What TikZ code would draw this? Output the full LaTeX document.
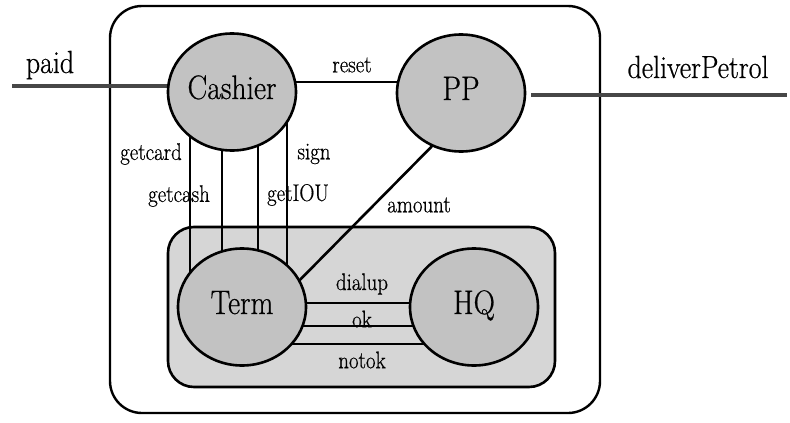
\documentclass[tikz,border=0pt]{standalone}
\usepackage{fontspec}
\newfontfamily\timesface{Latin Modern Roman}[FakeStretch=0.87,FakeBold=0.6]
\usetikzlibrary{calc,shapes.geometric}
\pgfdeclarelayer{boxes}
\pgfdeclarelayer{wires}
\pgfsetlayers{boxes,wires,main}

\begin{document}
\begin{tikzpicture}[x=1pt,y=-1pt,
  proc/.style={ellipse, draw, line width=2.6pt, fill=black!24,
    minimum width=128pt, minimum height=117pt, inner sep=0pt,
    text height=24pt, text depth=10pt,
    font=\timesface\fontsize{34}{34}\selectfont},
  wire/.style={line width=2.6pt},
  ext/.style={line width=4.5pt, draw=black!72},
  lbl/.style={font=\timesface\fontsize{24}{24}\selectfont, inner sep=0pt},
  bigl/.style={font=\timesface\fontsize{32}{32}\selectfont, inner sep=0pt}]
\useasboundingbox (0,0) rectangle (790,423);

% processes
\node[proc] (Cashier) at (232,92) {Cashier};
\node[proc] (PP) at (461,93) {PP};
\node[proc] (Term) at (242,307) {Term};
\node[proc] (HQ) at (474,307) {HQ};

% enclosing boxes
\begin{pgfonlayer}{boxes}
  \node[draw, line width=2.4pt, rounded corners=32pt,
    minimum width=490pt, minimum height=407pt] (System) at (355,209.5) {};
  \node[draw, line width=2.6pt, rounded corners=26pt, fill=black!16,
    minimum width=387pt, minimum height=160pt] (Bank) at (361.5,307) {};
\end{pgfonlayer}

% channels
\coordinate (paidEnd) at (12,86);
\coordinate (petrolEnd) at (787,95);
\begin{pgfonlayer}{wires}
  \draw[ext] (paidEnd) -- ($(Cashier)+(0,-6)$);
  \draw[ext] ($(PP.east)+(5,2)$) -- (petrolEnd);
  \draw[wire] ($(Cashier)+(0,-10)$) -- ($(PP)+(0,-11)$);
  \foreach \dx in {-42,-10,26,55}
    \draw[wire] ($(Cashier)+(\dx,0)$) -- ($(Term)+(\dx-10,0)$);
  \draw[wire] ($(PP)+(-18,42)$) -- ($(Term)+(46,-15)$);
  \foreach \dy in {-4,19,37}
    \draw[wire] ($(Term)+(0,\dy)$) -- ($(HQ)+(0,\dy)$);
\end{pgfonlayer}

% channel names
\node[bigl] (lpaid) at (50,65) {paid};
\node[bigl] (lpetrol) at (698,67) {deliverPetrol};
\node[lbl] (lreset) at (352,65) {reset};
\node[lbl] (lgetcard) at (151,154) {getcard};
\node[lbl] (lgetcash) at (179,196) {getcash};
\node[lbl] (lgetIOU) at (298,195) {getIOU};
\node[lbl] (lsign) at (314,154) {sign};
\node[lbl] (lamount) at (419,205) {amount};
\node[lbl] (ldialup) at (362,284) {dialup};
\node[lbl] (lok) at (362,319) {ok};
\node[lbl] (lnotok) at (362,360) {notok};
\end{tikzpicture}
\end{document}
